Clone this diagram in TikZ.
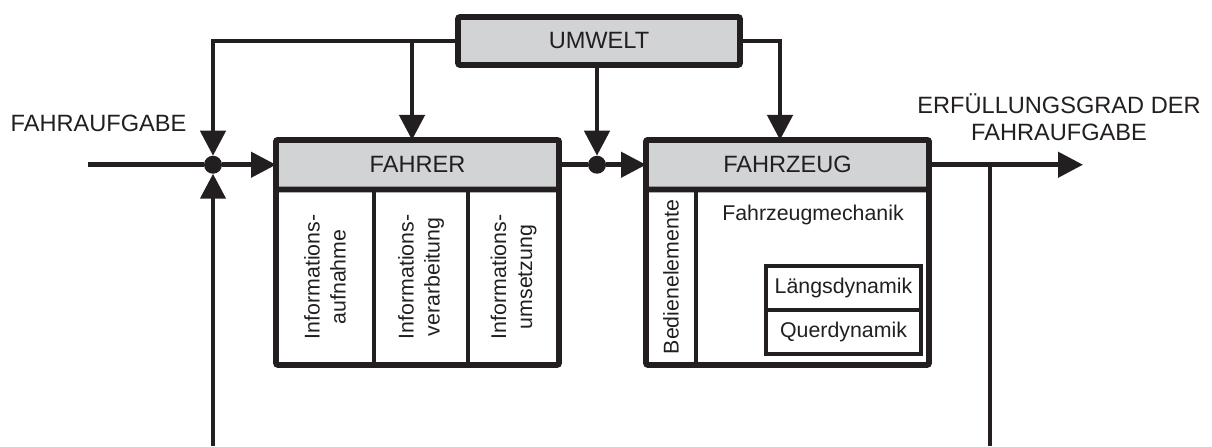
\documentclass[tikz,border=0pt]{standalone}
\usepackage{fontspec}
\setmainfont{Liberation Sans}
\usetikzlibrary{arrows.meta,positioning}
\definecolor{strich}{HTML}{231F20}
\definecolor{grau}{HTML}{D1D3D4}
\newcommand{\grossschrift}{\fontsize{17.7}{20.5}\selectfont}
\newcommand{\kleinschrift}{\fontsize{16}{19.5}\selectfont}

\begin{document}
\begin{tikzpicture}[
  x=0.75pt,y=0.75pt,
  box/.style={draw=strich,line width=4.3pt,rounded corners=1.5pt,outer sep=0pt,
    minimum width=212.25pt,minimum height=168.75pt},
  kopf/.style={draw=strich,fill=grau,line width=4.3pt,rounded corners=1.5pt,
    outer sep=0pt,minimum width=212.25pt,minimum height=37.125pt,anchor=north,
    text=strich,font=\grossschrift},
  teil/.style={draw=strich,line width=3.1pt},
  senk/.style={rotate=90,align=center,inner sep=0pt,text=strich,font=\kleinschrift},
  klein/.style={inner sep=0pt,text=strich,font=\kleinschrift},
  dyn/.style={draw=strich,line width=3.1pt,outer sep=0pt,minimum width=116.25pt,
    minimum height=33pt,text=strich,font=\kleinschrift},
  txt/.style={align=center,inner sep=0pt,text=strich,font=\grossschrift},
  knoten/.style={circle,fill=strich,inner sep=0pt,outer sep=0pt,minimum size=13.5pt},
  linie/.style={draw=strich,line width=3.4pt},
  pfeil/.style={linie,-{Triangle[length=18.75pt,width=18.75pt]}}
]
\useasboundingbox (0,0) rectangle (1212,446);

\node[box] (fahrer) at (417.5,193.5) {};
\node[kopf] (fahrerkopf) at (fahrer.north) {FAHRER};
\draw[teil] ([xshift=73.5pt]fahrerkopf.south west) -- ([xshift=73.5pt]fahrer.south west);
\draw[teil] ([xshift=144pt]fahrerkopf.south west) -- ([xshift=144pt]fahrer.south west);
\node[senk] (aufnahme) at (325,169) {Informations-\\aufnahme};
\node[senk] (verarbeitung) at (421,169) {Informations-\\verarbeitung};
\node[senk] (umsetzung) at (513.5,169) {Informations-\\umsetzung};

\node[box] (fahrzeug) at (787.5,193.5) {};
\node[kopf] (fahrzeugkopf) at (fahrzeug.north) {FAHRZEUG};
\draw[teil] ([xshift=37.5pt]fahrzeugkopf.south west) -- ([xshift=37.5pt]fahrzeug.south west);
\node[senk] (bedien) at (671,169) {Bedienelemente};
\node[klein] (mechanik) at (813,231) {Fahrzeugmechanik};
\node[dyn,anchor=north] (laengs) at (843.5,180) {Längsdynamik};
\node[dyn,below=0pt of laengs] (quer) {Querdynamik};

\node[kopf,anchor=center,minimum width=211.5pt,minimum height=36pt] (umwelt) at (599,405) {UMWELT};

\node[knoten] (knoten1) at (213,281.25) {};
\node[knoten] (knoten2) at (597,281.25) {};
\coordinate (eingang) at (88,281.25);
\coordinate (ausgang) at (1083,281.25);
\coordinate (abgriff) at (990,281.25);
\coordinate (rueck1) at (213,0);
\coordinate (rueck2) at (990,0);
\coordinate (abzweig) at (412,405);

\node[txt] (aufgabe) at (98.5,323) {FAHRAUFGABE};
\node[txt] (erfuellung) at (1059,329) {ERFÜLLUNGSGRAD DER\\FAHRAUFGABE};

\draw[linie] (eingang) -- (knoten1);
\draw[pfeil] (knoten1) -- (fahrerkopf.west);
\draw[pfeil] (umwelt.west) -| (knoten1);
\draw[pfeil] (abzweig) -- (abzweig |- fahrer.north);
\draw[pfeil] (rueck1) -- (knoten1);
\draw[linie] (fahrerkopf.east) -- (knoten2);
\draw[pfeil] (knoten2) -- (fahrzeugkopf.west);
\draw[pfeil] (umwelt.south -| knoten2) -- (knoten2);
\draw[pfeil] (umwelt.east) -| ([xshift=-5.625pt]fahrzeug.north);
\draw[pfeil] (fahrzeugkopf.east) -- (ausgang);
\draw[linie] (abgriff) -- (rueck2);
\end{tikzpicture}
\end{document}
